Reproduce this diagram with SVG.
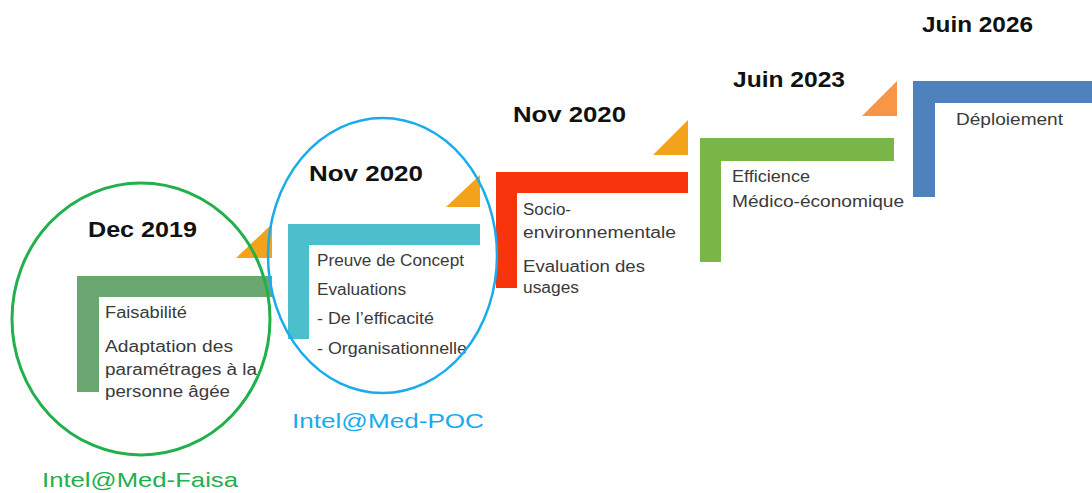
<svg xmlns="http://www.w3.org/2000/svg" width="1092" height="493" viewBox="0 0 1092 493">
<style>
.hd{font-family:"Liberation Sans",Arial,sans-serif;font-weight:bold;font-size:22px;fill:#111}
.bd{font-family:"Liberation Sans",Arial,sans-serif;font-size:16px;fill:#3a3a3a}
.lab{font-family:"Liberation Sans",Arial,sans-serif;font-size:21px}
.tri{stroke:none}
</style>
<rect width="1092" height="493" fill="#ffffff"/>
<g id="arrows">
<polygon class="tri" points="236,258 272,258 272,224" fill="#F2A21B"/>
<polygon class="tri" points="446,207 480,207 480,175" fill="#F2A21B"/>
<polygon class="tri" points="653,155 688,155 688,120" fill="#F2A21B"/>
<polygon class="tri" points="862,116 897,116 897,81" fill="#F79646"/>
</g>
<g id="step-faisabilite">
<path d="M77,276 H272 V297 H99 V392 H77 Z" fill="#6BA871"/>
<text class="hd" x="88" y="237" textLength="109" lengthAdjust="spacingAndGlyphs">Dec 2019</text>
<text class="bd" x="105" y="318" textLength="82" lengthAdjust="spacingAndGlyphs">Faisabilité</text>
<text class="bd" x="105" y="352" textLength="128" lengthAdjust="spacingAndGlyphs">Adaptation des</text>
<text class="bd" x="105" y="375" textLength="152" lengthAdjust="spacingAndGlyphs">paramétrages à la</text>
<text class="bd" x="105" y="397" textLength="125" lengthAdjust="spacingAndGlyphs">personne âgée</text>
</g>
<g id="step-poc">
<path d="M288,224 H480 V245 H309 V339 H288 Z" fill="#4BC0CC"/>
<text class="hd" x="309" y="181" textLength="114" lengthAdjust="spacingAndGlyphs">Nov 2020</text>
<text class="bd" x="317" y="266" textLength="147" lengthAdjust="spacingAndGlyphs">Preuve de Concept</text>
<text class="bd" x="317" y="295" textLength="89" lengthAdjust="spacingAndGlyphs">Evaluations</text>
<text class="bd" x="317" y="324" textLength="117" lengthAdjust="spacingAndGlyphs">- De l’efficacité</text>
<text class="bd" x="317" y="354" textLength="150" lengthAdjust="spacingAndGlyphs">- Organisationnelle</text>
</g>
<g id="step-socio">
<path d="M496,172 H688 V193 H517 V288 H496 Z" fill="#F8340C"/>
<text class="hd" x="513" y="122" textLength="113" lengthAdjust="spacingAndGlyphs">Nov 2020</text>
<text class="bd" x="523" y="215" textLength="48" lengthAdjust="spacingAndGlyphs">Socio-</text>
<text class="bd" x="523" y="238" textLength="153" lengthAdjust="spacingAndGlyphs">environnementale</text>
<text class="bd" x="523" y="272" textLength="122" lengthAdjust="spacingAndGlyphs">Evaluation des</text>
<text class="bd" x="523" y="293" textLength="56" lengthAdjust="spacingAndGlyphs">usages</text>
</g>
<g id="step-efficience">
<path d="M700,138 H894 V161 H721 V262 H700 Z" fill="#7AB648"/>
<text class="hd" x="733" y="87" textLength="112" lengthAdjust="spacingAndGlyphs">Juin 2023</text>
<text class="bd" x="732" y="182" textLength="78" lengthAdjust="spacingAndGlyphs">Efficience</text>
<text class="bd" x="732" y="207" textLength="172" lengthAdjust="spacingAndGlyphs">Médico-économique</text>
</g>
<g id="step-deploiement">
<path d="M913,81 H1092 V103 H935 V197 H913 Z" fill="#4F81BD"/>
<text class="hd" x="922" y="32" textLength="111" lengthAdjust="spacingAndGlyphs">Juin 2026</text>
<text class="bd" x="956" y="125" textLength="107" lengthAdjust="spacingAndGlyphs">Déploiement</text>
</g>
<g id="group-faisa">
<ellipse cx="141" cy="319" rx="129" ry="136" fill="none" stroke="#21B04B" stroke-width="3"/>
<text class="lab" x="42" y="487" fill="#21B04B" textLength="196" lengthAdjust="spacingAndGlyphs">Intel@Med-Faisa</text>
</g>
<g id="group-poc">
<ellipse cx="382.5" cy="255.5" rx="114.5" ry="137.5" fill="none" stroke="#1AABEE" stroke-width="2.5"/>
<text class="lab" x="292" y="428" fill="#1AABEE" textLength="192" lengthAdjust="spacingAndGlyphs">Intel@Med-POC</text>
</g>
</svg>
